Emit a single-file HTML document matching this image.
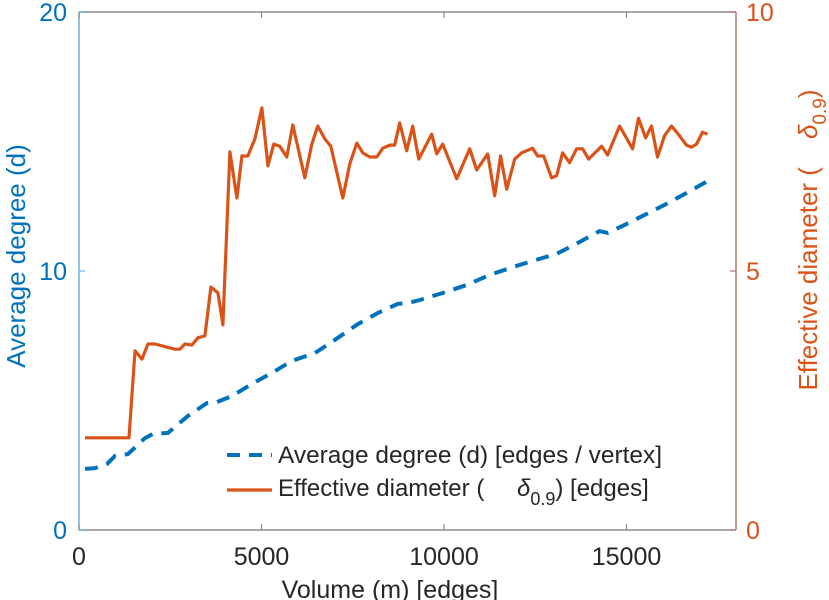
<!DOCTYPE html>
<html><head><meta charset="utf-8"><style>
html,body{margin:0;padding:0;background:#fff;}
svg{display:block;font-family:"Liberation Sans",sans-serif;}
</style></head><body>
<svg id="chart" width="829" height="600" viewBox="0 0 829 600"></svg>
<script>
const degX=[164,438,767,986,1341,1807,2026,2436,2984,3504,3778,4188,4736,5283,5831,6460,7008,7638,8185,8733,9006,9335,9964,10621,11251,11881,12428,13085,13715,14262,14481,14892,15549,16097,16644,17220];
const degY=[2.36,2.39,2.55,2.86,2.93,3.55,3.71,3.75,4.40,4.90,4.94,5.17,5.64,6.06,6.53,6.83,7.34,7.95,8.38,8.73,8.76,8.88,9.15,9.46,9.85,10.15,10.39,10.66,11.12,11.54,11.47,11.74,12.20,12.59,13.01,13.47];
const diaX=[164,1369,1533,1725,1889,2080,2628,2765,2902,3093,3258,3449,3613,3805,3942,4134,4325,4462,4626,4818,5010,5174,5338,5502,5694,5858,6187,6378,6543,6734,6898,7227,7419,7610,7775,7966,8158,8322,8514,8650,8787,8979,9143,9307,9663,9800,9964,10348,10704,10895,11196,11388,11552,11717,11936,12127,12428,12565,12729,12948,13085,13249,13441,13633,13797,13961,14317,14481,14810,15166,15330,15522,15686,15850,16042,16234,16398,16644,16781,16918,17082,17220];
const diaY=[1.78,1.78,3.46,3.30,3.59,3.59,3.49,3.49,3.59,3.57,3.71,3.75,4.69,4.58,3.96,7.30,6.41,7.22,7.22,7.55,8.15,7.03,7.45,7.41,7.20,7.82,6.80,7.45,7.80,7.55,7.41,6.41,7.07,7.47,7.28,7.20,7.20,7.37,7.43,7.43,7.86,7.32,7.80,7.16,7.64,7.26,7.45,6.78,7.36,6.95,7.26,6.45,7.22,6.58,7.16,7.28,7.37,7.22,7.22,6.80,6.84,7.28,7.09,7.36,7.36,7.16,7.41,7.24,7.80,7.36,7.95,7.57,7.80,7.20,7.61,7.80,7.66,7.43,7.39,7.45,7.68,7.64];
const xTicks=[0,5000,10000,15000];
const yLeftTicks=[0,10,20];
const yRightTicks=[0,5,10];

const L=79,R=736,T=12,B=530;
const XMAX=18000,YLMAX=20,YRMAX=10;
const xs=v=>L+v/XMAX*(R-L);
const yl=v=>B-v/YLMAX*(B-T);
const yr=v=>B-v/YRMAX*(B-T);
const NS='http://www.w3.org/2000/svg';
const svg=document.getElementById('chart');
function mk(tag,attrs,parent){const e=document.createElementNS(NS,tag);for(const k in attrs)e.setAttribute(k,attrs[k]);(parent||svg).appendChild(e);return e;}

let e;
e=mk('line',{x1:L,y1:B,x2:R,y2:B,stroke:'#8a8a8a','stroke-width':1.5});


e=mk('line',{x1:L,y1:T,x2:R,y2:T,stroke:'#8a8a8a','stroke-width':1.5});


e=mk('line',{x1:L,y1:T,x2:L,y2:B,stroke:'#6fb0dc','stroke-width':1.5});


e=mk('line',{x1:R,y1:T,x2:R,y2:B,stroke:'#b07a6e','stroke-width':1.5});



xTicks.forEach(t=>{
  const x=xs(t);
  e=mk('line',{x1:x,y1:B,x2:x,y2:B-6,stroke:'#8a8a8a','stroke-width':1.2});
  
  
  e=mk('line',{x1:x,y1:T,x2:x,y2:T+6,stroke:'#8a8a8a','stroke-width':1.2});
  
  
  e=mk('text',{x:x,y:565,'text-anchor':'middle','font-size':25,fill:'#262626'});
  e.textContent=t;
  
  
});
yLeftTicks.forEach(t=>{
  const y=yl(t);
  e=mk('line',{x1:L,y1:y,x2:L+6,y2:y,stroke:'#6fb0dc','stroke-width':1.2});
  
  
  e=mk('text',{x:L-12,y:y+9,'text-anchor':'end','font-size':25,fill:'#0072BD'});
  e.textContent=t;
  
  
});
yRightTicks.forEach(t=>{
  const y=yr(t);
  e=mk('line',{x1:R,y1:y,x2:R-6,y2:y,stroke:'#b07a6e','stroke-width':1.2});
  
  
  e=mk('text',{x:R+10,y:y+9,'text-anchor':'start','font-size':25,fill:'#D95319'});
  e.textContent=t;
  
  
});

const dPts=degX.map((x,i)=>xs(x).toFixed(1)+','+yl(degY[i]).toFixed(1)).join(' ');
e=mk('polyline',{points:dPts,fill:'none',stroke:'#0072BD','stroke-width':4,'stroke-dasharray':'13,9'});


const rPts=diaX.map((x,i)=>xs(x).toFixed(1)+','+yr(diaY[i]).toFixed(1)).join(' ');
e=mk('polyline',{points:rPts,fill:'none',stroke:'#D95319','stroke-width':3.2,'stroke-linejoin':'round'});



e=mk('line',{x1:227,y1:455,x2:272,y2:455,stroke:'#0072BD','stroke-width':4,'stroke-dasharray':'13,9'});


e=mk('text',{x:278,y:463,'font-size':24,fill:'#262626',textLength:384,lengthAdjust:'spacingAndGlyphs'});
e.textContent='Average degree (d) [edges / vertex]';


e=mk('line',{x1:227,y1:490,x2:272,y2:490,stroke:'#D95319','stroke-width':3.2});


e=mk('text',{x:278,y:496,'font-size':24,fill:'#262626'});
e.innerHTML='Effective diameter (<tspan x="517" font-style="italic">δ</tspan><tspan font-size="18" dy="9">0.9</tspan><tspan dy="-9">) [edges]</tspan>';



e=mk('text',{x:390,y:598,'text-anchor':'middle','font-size':25,fill:'#262626'});
e.textContent='Volume (m) [edges]';


e=mk('text',{x:0,y:0,'text-anchor':'middle','font-size':26,fill:'#0072BD',transform:'translate(25,256) rotate(-90)'});
e.textContent='Average degree (d)';


e=mk('text',{x:0,y:0,'text-anchor':'middle','font-size':26,fill:'#D95319',transform:'translate(817,240) rotate(-90)'});
e.innerHTML='Effective diameter (<tspan dx="28" font-style="italic">δ</tspan><tspan font-size="19" dy="9">0.9</tspan><tspan dy="-9">)</tspan>';


</script>
</body></html>
